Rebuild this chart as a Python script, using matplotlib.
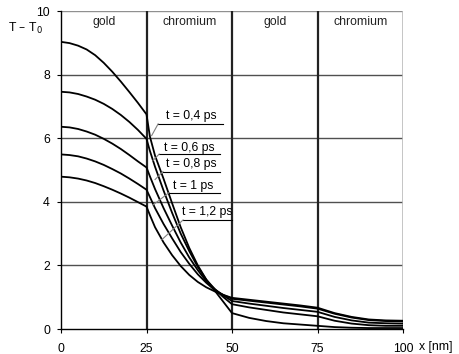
import matplotlib
matplotlib.use("Agg")
import matplotlib.pyplot as plt

plt.rcParams['font.family'] = ['Liberation Sans', 'DejaVu Sans']

x_nm = [0, 2.5, 5, 7.5, 10, 12.5, 15, 17.5, 20, 22.5, 25,
        26, 27.5, 30, 32.5, 35, 37.5, 40, 42.5, 45, 47.5,
        50, 55, 60, 65, 70, 75, 80, 85, 90, 95, 100]

t04 = [9.03, 8.99, 8.91, 8.79, 8.61, 8.37, 8.09, 7.78, 7.45, 7.11, 6.75,
       6.05, 5.45, 4.72, 3.95, 3.20, 2.55, 2.00, 1.55, 1.20, 0.85,
       0.50, 0.35, 0.25, 0.18, 0.14, 0.10, 0.06, 0.04, 0.03, 0.03, 0.03]
t06 = [7.46, 7.44, 7.39, 7.31, 7.21, 7.08, 6.92, 6.73, 6.51, 6.26, 5.98,
       5.60, 5.10, 4.35, 3.65, 3.00, 2.45, 1.95, 1.55, 1.25, 1.00,
       0.78, 0.68, 0.60, 0.52, 0.46, 0.40, 0.26, 0.17, 0.12, 0.10, 0.10]
t08 = [6.36, 6.34, 6.29, 6.21, 6.11, 5.98, 5.83, 5.66, 5.47, 5.27, 5.08,
       4.80, 4.40, 3.80, 3.25, 2.72, 2.25, 1.85, 1.50, 1.25, 1.05,
       0.88, 0.80, 0.73, 0.66, 0.60, 0.54, 0.38, 0.27, 0.20, 0.18, 0.17]
t10 = [5.49, 5.47, 5.43, 5.36, 5.27, 5.16, 5.03, 4.89, 4.73, 4.56, 4.38,
       4.15, 3.80, 3.30, 2.85, 2.42, 2.05, 1.72, 1.45, 1.22, 1.07,
       0.95, 0.89, 0.83, 0.77, 0.71, 0.64, 0.48, 0.36, 0.28, 0.25, 0.24]
t12 = [4.79, 4.77, 4.73, 4.67, 4.59, 4.49, 4.38, 4.26, 4.13, 3.99, 3.85,
       3.58, 3.20, 2.72, 2.32, 1.98, 1.70, 1.48, 1.31, 1.18, 1.07,
       0.98, 0.92, 0.86, 0.80, 0.74, 0.67, 0.50, 0.38, 0.30, 0.27, 0.26]

series = [t04, t06, t08, t10, t12]
labels = ["t = 0,4 ps", "t = 0,6 ps", "t = 0,8 ps", "t = 1 ps", "t = 1,2 ps"]
# label anchor: (text x, text y, underline x0, underline x1, underline y, leader end x, leader end y)
label_pos = [
    (38.2, 6.70, 28.4, 47.4, 6.45, 26.5, 6.08),
    (37.6, 5.68, 28.7, 46.5, 5.50, 26.9, 5.30),
    (38.0, 5.19, 29.8, 46.5, 4.95, 27.5, 4.70),
    (38.6, 4.50, 31.6, 46.5, 4.29, 26.9, 3.90),
    (42.7, 3.69, 35.7, 50.0, 3.43, 29.4, 2.80),
]

regions = ["gold", "chromium", "gold", "chromium"]
region_centers = [12.5, 37.5, 62.5, 87.5]
boundaries = [25, 50, 75]

x_ticks = [0, 25, 50, 75, 100]
y_ticks = [0, 2, 4, 6, 8, 10]

FS = 8.8

fig = plt.figure(figsize=(4.6, 3.54), dpi=100)
ax = fig.add_axes([61/460, 1-329/354, (403-61)/460, (329-11)/354])

for yv in [2, 4, 6, 8]:
    ax.axhline(yv, color='#505050', lw=1.0, zorder=1)
ax.axhline(10, color='#909090', lw=1.0, zorder=1)
for b in boundaries:
    ax.axvline(b, color='#222222', lw=1.6, zorder=1)
ax.axvline(100, color='#bbbbbb', lw=1.2, zorder=1)

for s in series:
    ax.plot(x_nm, s, color='black', lw=1.3, zorder=3)

for lab, (tx, ty, u0, u1, uy, lx, ly) in zip(labels, label_pos):
    ax.text(tx, ty, lab, ha='center', va='center', fontsize=FS, color='black', zorder=5)
    ax.plot([u0, u1], [uy, uy], color='black', lw=0.8, zorder=4)
    ax.plot([u0, lx], [uy, ly], color='#808080', lw=0.8, zorder=4)

for r, c in zip(regions, region_centers):
    ax.text(c, 9.66, r, ha='center', va='center', fontsize=FS, color='#222222')

ax.set_xlim(0, 100)
ax.set_ylim(0, 10)
ax.set_xticks(x_ticks)
ax.set_yticks(y_ticks)
ax.tick_params(axis='both', labelsize=FS, direction='out', length=3, width=0.8, colors='black', pad=5)
ax.tick_params(axis='x', pad=7)
for sp in ['top', 'right']:
    ax.spines[sp].set_visible(False)
ax.spines['left'].set_linewidth(1.0)
ax.spines['bottom'].set_linewidth(1.0)

fig.text(25/460, 1-28/354, r"T – T$_0$", ha='center', va='center', fontsize=FS)
fig.text(436/460, 1-347/354, "x [nm]", ha='center', va='center', fontsize=FS)

fig.savefig("out.png", dpi=100)
